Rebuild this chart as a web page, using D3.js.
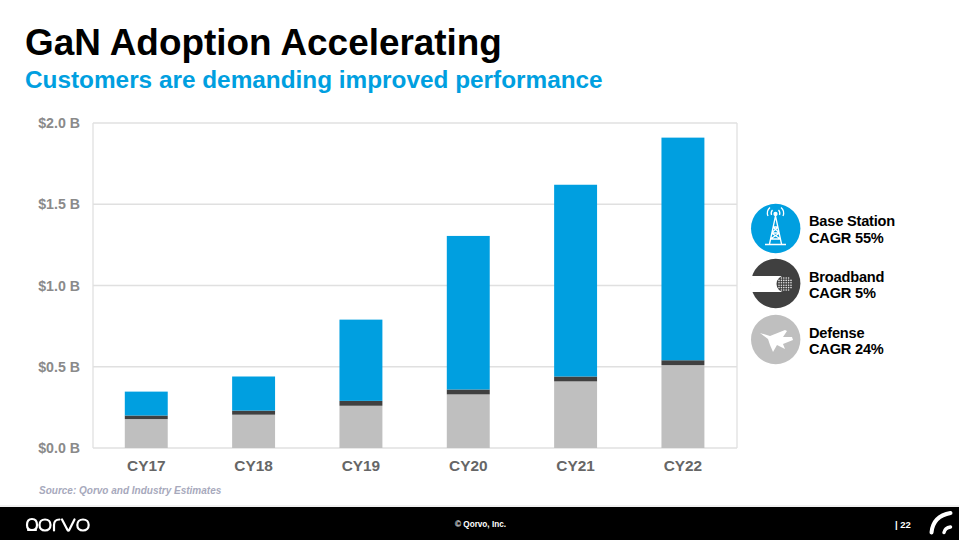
<!DOCTYPE html>
<html><head><meta charset="utf-8">
<script src="https://cdn.jsdelivr.net/npm/d3@7/dist/d3.min.js"></script>
<style>html,body{margin:0;padding:0;background:#fff;overflow:hidden}svg{display:block}text{font-family:"Liberation Sans",Arial,sans-serif}</style>
</head><body><svg id="c" width="959" height="540"></svg>
<script>
const categories = ["CY17","CY18","CY19","CY20","CY21","CY22"];
const defense = [0.178,0.205,0.26,0.33,0.41,0.51];
const broadband = [0.022,0.025,0.03,0.03,0.03,0.03];
const baseStation = [0.147,0.21,0.50,0.945,1.18,1.37];
const yTicks = [0,0.5,1,1.5,2];
const seriesNames = ["defense","broadband","baseStation"];
const colors = {defense:"#BFBFBF",broadband:"#404040",baseStation:"#009FE0"};
const font = '"Liberation Sans",Arial,sans-serif';

const svg = d3.select("#c");
const x = d3.scaleBand().domain(categories).range([92.6,736.6]).paddingInner(0.6).paddingOuter(0.3);
const y = d3.scaleLinear().domain([0,2]).range([448,123]);

svg.append("text").attr("x",25).attr("y",55).attr("font-size",36.9).attr("font-weight",700).attr("fill","#000").text("GaN Adoption Accelerating");
svg.append("text").attr("x",25).attr("y",88).attr("font-size",24.35).attr("font-weight",700).attr("fill","#009FE0").text("Customers are demanding improved performance");

// grid & frame
const grid = svg.append("g");
grid.selectAll("line").data(yTicks).join("line")
  .attr("x1",93).attr("x2",737).attr("y1",d=>y(d)).attr("y2",d=>y(d))
  .attr("stroke","#E0E0E0").attr("stroke-width",1.3);
grid.append("line").attr("x1",93).attr("x2",93).attr("y1",y(2)).attr("y2",y(0)).attr("stroke","#E0E0E0").attr("stroke-width",1.3);
grid.append("line").attr("x1",737).attr("x2",737).attr("y1",y(2)).attr("y2",y(0)).attr("stroke","#E0E0E0").attr("stroke-width",1.3);

// bars
const rows = categories.map((c,i)=>({c,defense:defense[i],broadband:broadband[i],baseStation:baseStation[i]}));
const stack = d3.stack().keys(seriesNames)(rows);
svg.append("g").selectAll("g").data(stack).join("g").attr("fill",d=>colors[d.key])
  .selectAll("rect").data(d=>d).join("rect")
  .attr("x",d=>x(d.data.c)).attr("width",x.bandwidth())
  .attr("y",d=>y(d[1])).attr("height",d=>y(d[0])-y(d[1]));

// axes
const yAxis = d3.axisLeft(y).tickValues(yTicks).tickSize(0).tickPadding(13).tickFormat(d=>"$"+d.toFixed(1)+" B");
const gy = svg.append("g").attr("transform","translate(93,0)").call(yAxis);
gy.select(".domain").remove();
gy.selectAll("text").attr("font-size",14.2).attr("font-weight",700).attr("fill","#8A8A8A").style("font-family",font);
const xAxis = d3.axisBottom(x).tickSize(0).tickPadding(12);
const gx = svg.append("g").attr("transform","translate(0,448)").call(xAxis);
gx.select(".domain").remove();
gx.selectAll("text").attr("font-size",15.4).attr("font-weight",700).attr("fill","#666").style("font-family",font);

// legend
const legendLabels = [["Base Station","CAGR 55%"],["Broadband","CAGR 5%"],["Defense","CAGR 24%"]];
const leg = svg.append("g");
const cy = [228.5,283.5,339.5];
const baselines = [[226,243],[282,298],[338,354]];
[colors.baseStation,colors.broadband,"#BFBFBF"].forEach((col,i)=>{
  leg.append("circle").attr("cx",775.7).attr("cy",cy[i]).attr("r",24.7).attr("fill",col);
  legendLabels[i].forEach((t,j)=>{
    leg.append("text").attr("x",809).attr("y",baselines[i][j]).attr("font-size",14.6).attr("font-weight",700)
      .attr("letter-spacing",-0.2).attr("fill","#000").text(t);
  });
});
// tower icon
const tw = leg.append("g").attr("fill","none").attr("stroke","#fff").attr("stroke-width",1.3);
tw.append("path").attr("d","M775.5 216 L769.5 244 M775.5 216 L781.5 244 M773 227 H778 M771.5 233 H779.5 M770.5 239 H780.5 M773 227 L779.5 233 M778 227 L771.5 233 M771.5 233 L780.5 239 M779.5 233 L770.5 239 M765 244.5 H786");
tw.append("circle").attr("cx",775.5).attr("cy",214).attr("r",1.5).attr("fill","#fff");
tw.append("path").attr("d","M771.5 215 Q770.5 212 772.5 210 M779.5 215 Q780.5 212 778.5 210 M768 216 Q766 211 770 207.5 M783 216 Q785 211 781 207.5");
// cable icon
leg.append("path").attr("d","M751 276 H785 V292 H751 Z").attr("fill","#fff");
leg.append("circle").attr("cx",785).attr("cy",284).attr("r",8.5).attr("fill","#404040");
const dots = [];
for(let r=-6;r<=6;r+=2.4)for(let c=-6;c<=6;c+=2.4){if(r*r+c*c<=50)dots.push([785+c,284+r]);}
leg.append("g").selectAll("circle").data(dots).join("circle").attr("cx",d=>d[0]).attr("cy",d=>d[1]).attr("r",0.8).attr("fill","#e5e5e5");
// jet icon
leg.append("path").attr("fill","#fff").attr("d","M760 333 L770 336 L785 330 L787 331 L783 337 L792 337 L793 340 L783 344 L785 349 L777 345 L773 352 L770 345 L768 339 Z");

// source
svg.append("text").attr("x",39).attr("y",494).attr("font-size",10).attr("font-weight",700).attr("font-style","italic").attr("fill","#A7A9BC").text("Source: Qorvo and Industry Estimates");

// footer
svg.append("line").attr("x1",0).attr("x2",959).attr("y1",506).attr("y2",506).attr("stroke","#E3E3E3").attr("stroke-width",1);
svg.append("rect").attr("x",0).attr("y",507).attr("width",959).attr("height",33).attr("fill","#000");
svg.append("text").attr("x",480.5).attr("y",527).attr("text-anchor","middle").attr("font-size",8.2).attr("font-weight",700).attr("fill","#fff").text("© Qorvo, Inc.");
svg.append("text").attr("x",895).attr("y",528).attr("font-size",9.5).attr("font-weight",700).attr("fill","#fff").text("| 22");
// logo wordmark
svg.append("path").attr("fill","none").attr("stroke","#fff").attr("stroke-width",2.2).attr("stroke-linecap","round").attr("stroke-linejoin","round")
 .attr("d",[
  "M28 530 H36 M32 530 C28 530 27 527 27 525 C27 521 29 519 32 519 C35 519 37 521 37 525 C37 528 35 530 32 530",
  "M45 519.5 C48.5 519.5 50.5 522 50.5 525 C50.5 528 48.5 530.5 45 530.5 C41.5 530.5 39.5 528 39.5 525 C39.5 522 41.5 519.5 45 519.5 Z",
  "M54 530.5 V525 C54 521.5 56 519.5 59.5 519.5",
  "M62 519.5 L67.5 530 C68 531 68.7 531 69.2 530 L74.5 519.5",
  "M83 519.5 C86.5 519.5 88.7 522 88.7 525 C88.7 528 86.5 530.5 83 530.5 C79.5 530.5 77.3 528 77.3 525 C77.3 522 79.5 519.5 83 519.5 Z"
 ].join(" "));
// logo mark
svg.append("path").attr("d","M931.5 532.5 C932.5 522 939 515 950.5 513").attr("fill","none").attr("stroke","#fff").attr("stroke-width",4).attr("stroke-linecap","round");
svg.append("path").attr("d","M944 532.5 C944.5 530 947 527.5 950.5 527").attr("fill","none").attr("stroke","#fff").attr("stroke-width",3.5).attr("stroke-linecap","round");
</script></body></html>
